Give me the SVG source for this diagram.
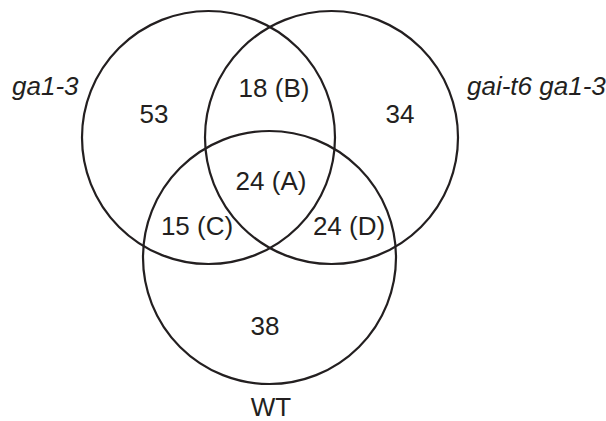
<svg xmlns="http://www.w3.org/2000/svg" width="606" height="421" viewBox="0 0 606 421">
  <style>
    .set { fill: none; stroke: #231f20; stroke-width: 2.2; }
    .lbl { font-family: "Liberation Sans", Arial, sans-serif; font-size: 26px; fill: #231f20; }
    .name { font-style: italic; }
    .mid { text-anchor: middle; }
  </style>
  <rect width="606" height="421" fill="#ffffff"/>
  <g id="set-ga1-3">
    <circle class="set" cx="208.5" cy="137.5" r="126.5"/>
    <text class="lbl name" x="12" y="95">ga1-3</text>
  </g>
  <g id="set-gai-t6-ga1-3">
    <circle class="set" cx="331.5" cy="137.5" r="126.5"/>
    <text class="lbl name" x="467" y="95">gai-t6 ga1-3</text>
  </g>
  <g id="set-wt">
    <circle class="set" cx="269.5" cy="257.5" r="126.5"/>
    <text class="lbl mid" x="271" y="416">WT</text>
  </g>
  <g id="counts">
    <text class="lbl mid" x="154" y="123">53</text>
    <text class="lbl mid" x="274" y="97">18 (B)</text>
    <text class="lbl mid" x="400" y="123">34</text>
    <text class="lbl mid" x="271" y="190">24 (A)</text>
    <text class="lbl mid" x="197" y="235">15 (C)</text>
    <text class="lbl mid" x="349" y="235">24 (D)</text>
    <text class="lbl mid" x="265" y="335">38</text>
  </g>
</svg>
